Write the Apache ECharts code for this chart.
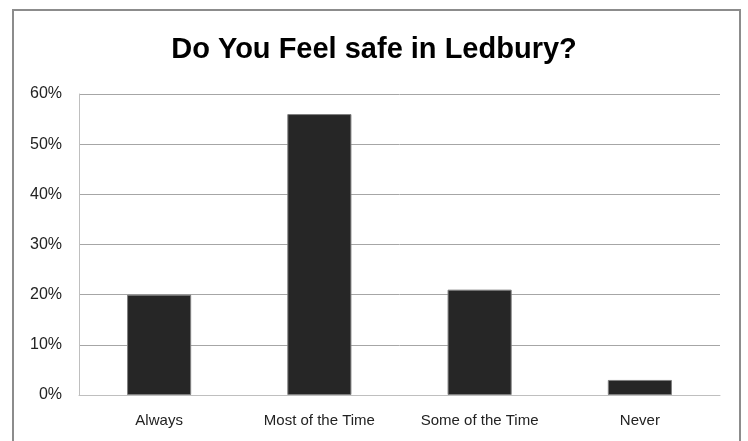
<!DOCTYPE html>
<html><head><meta charset="utf-8">
<script src="https://cdn.jsdelivr.net/npm/echarts@6/dist/echarts.min.js"></script>
<style>html,body{margin:0;padding:0;background:#fff}#c{width:748px;height:441px}
#frame{position:absolute;left:12px;top:9px;width:729px;height:440px;border:2px solid #8c8c8c;box-sizing:border-box;pointer-events:none}</style>
</head><body><div id="c"></div><div id="frame"></div>
<script>
const titleText = "Do You Feel safe in Ledbury?";
const categories = ["Always", "Most of the Time", "Some of the Time", "Never"];
const values = [0.20, 0.56, 0.21, 0.03];
const yTicks = { min: 0, max: 0.6, interval: 0.1 };

const chart = echarts.init(document.getElementById('c'), null, {renderer: 'canvas'});
chart.setOption({
  animation: false,
  backgroundColor: '#fff',
  title: {
    text: titleText, left: 'center', top: 30,
    textStyle: {fontFamily: 'Liberation Sans', fontWeight: 'bold', fontSize: 29, color: '#000'}
  },
  grid: {left: 79, right: 28, top: 94, bottom: 46, containLabel: false},
  xAxis: {
    type: 'category', data: categories,
    axisLine: {lineStyle: {color: '#bfbfbf', width: 1}},
    axisTick: {show: false},
    axisLabel: {color: '#222', fontFamily: 'Liberation Sans', fontSize: 15, margin: 18}
  },
  yAxis: {
    type: 'value', min: yTicks.min, max: yTicks.max, interval: yTicks.interval,
    axisLine: {show: true, lineStyle: {color: '#bfbfbf', width: 1}},
    axisTick: {show: false},
    splitLine: {lineStyle: {color: '#a6a6a6', width: 1}},
    axisLabel: {color: '#222', fontFamily: 'Liberation Sans', fontSize: 16, margin: 17,
      formatter: v => Math.round(v * 100) + '%'}
  },
  series: [{
    type: 'bar', data: values, barWidth: '40%',
    itemStyle: {color: '#262626', borderColor: '#7f7f7f', borderWidth: 1}
  }]
});
</script></body></html>
